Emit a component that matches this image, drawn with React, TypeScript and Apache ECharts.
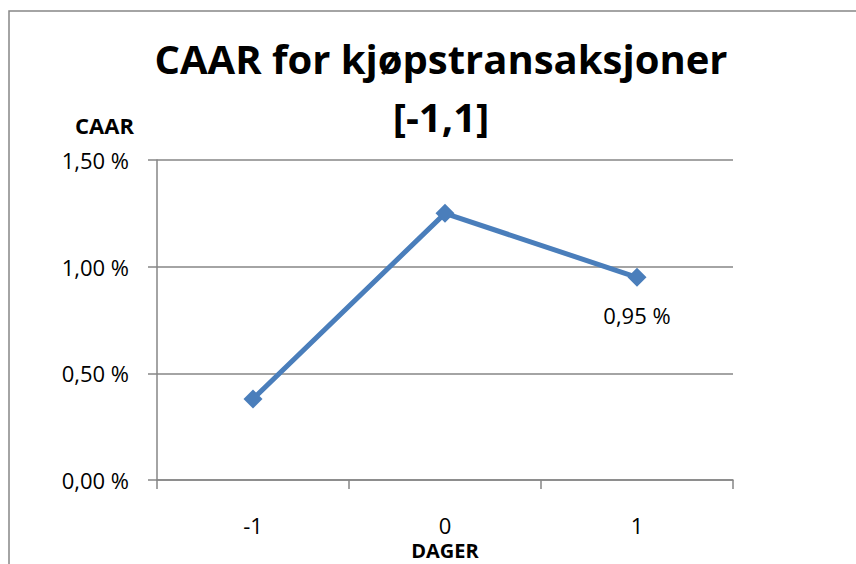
import React, { useEffect, useRef } from "react";
import * as echarts from "echarts";

const categories = ["-1", "0", "1"];
const caarValues = [0.38, 1.25, 0.95];
const labeledIndex = 2;
const titleLines = ["CAAR for kjøpstransaksjoner", "[-1,1]"];
const yName = "CAAR";
const xName = "DAGER";

const FONT = "'Open Sans', Lato, sans-serif";
const fmt = (v: number) => v.toFixed(2).replace(".", ",") + " %";

export default function App() {
  const ref = useRef<HTMLDivElement>(null);
  useEffect(() => {
    if (!ref.current) return;
    const chart = echarts.init(ref.current, null, { renderer: "svg" });
    const axisGrey = "#868686";
    chart.setOption({
      animation: false,
      backgroundColor: "#ffffff",
      title: {
        text: titleLines.join("\n"),
        left: 436,
        textAlign: "center",
        top: 24,
        textStyle: {
          fontFamily: FONT,
          fontSize: 40,
          fontWeight: "bold",
          color: "#000",
          lineHeight: 58,
        },
      },
      graphic: [
        {
          type: "rect",
          shape: { x: 9, y: 11, width: 860, height: 570 },
          style: { fill: "none", stroke: "#868686", lineWidth: 1.5 },
          silent: true,
        },
      ],
      grid: { left: 157, right: 123, top: 160, bottom: 84, outerBoundsMode: "none", containLabel: false },
      xAxis: {
        type: "category",
        data: categories,
        boundaryGap: true,
        name: xName,
        nameLocation: "middle",
        nameGap: 57,
        nameTextStyle: {
          fontFamily: FONT,
          fontSize: 20,
          lineHeight: 20,
          fontWeight: "bold",
          color: "#000",
        },
        axisLine: { lineStyle: { color: axisGrey, width: 1.5 } },
        axisTick: { show: true, length: 9, interval: 0, lineStyle: { color: axisGrey, width: 1.5 } },
        axisLabel: { fontFamily: FONT, fontSize: 22, color: "#000", margin: 34 },
        splitLine: { show: false },
      },
      yAxis: {
        type: "value",
        min: 0,
        max: 1.5,
        interval: 0.5,
        name: yName,
        nameLocation: "end",
        nameGap: 24,
        nameTextStyle: {
          fontFamily: FONT,
          fontSize: 22,
          fontWeight: "bold",
          color: "#000",
          align: "right",
          padding: [0, 23, 0, 0],
        },
        axisLine: { show: true, lineStyle: { color: axisGrey, width: 1.5 } },
        axisTick: { show: true, length: 9, lineStyle: { color: axisGrey, width: 1.5 } },
        axisLabel: { fontFamily: FONT, fontSize: 22, color: "#000", margin: 28, formatter: fmt },
        splitLine: { show: true, lineStyle: { color: axisGrey, width: 1.5 } },
      },
      series: [
        {
          type: "line",
          data: caarValues.map((v, i) =>
            i === labeledIndex
              ? {
                  value: v,
                  label: {
                    show: true,
                    position: "bottom",
                    distance: 17,
                    formatter: (p: any) => fmt(p.value),
                    fontFamily: FONT,
                    fontSize: 22,
                    color: "#000",
                  },
                }
              : v
          ),
          symbol: "diamond",
          symbolSize: 19,
          lineStyle: { color: "#4a7ebb", width: 5 },
          itemStyle: { color: "#4a7ebb" },
        },
      ],
    });
    return () => chart.dispose();
  }, []);
  return (
    <div
      ref={ref}
      style={{ position: "absolute", left: 0, top: 0, width: 856, height: 564 }}
    />
  );
}
